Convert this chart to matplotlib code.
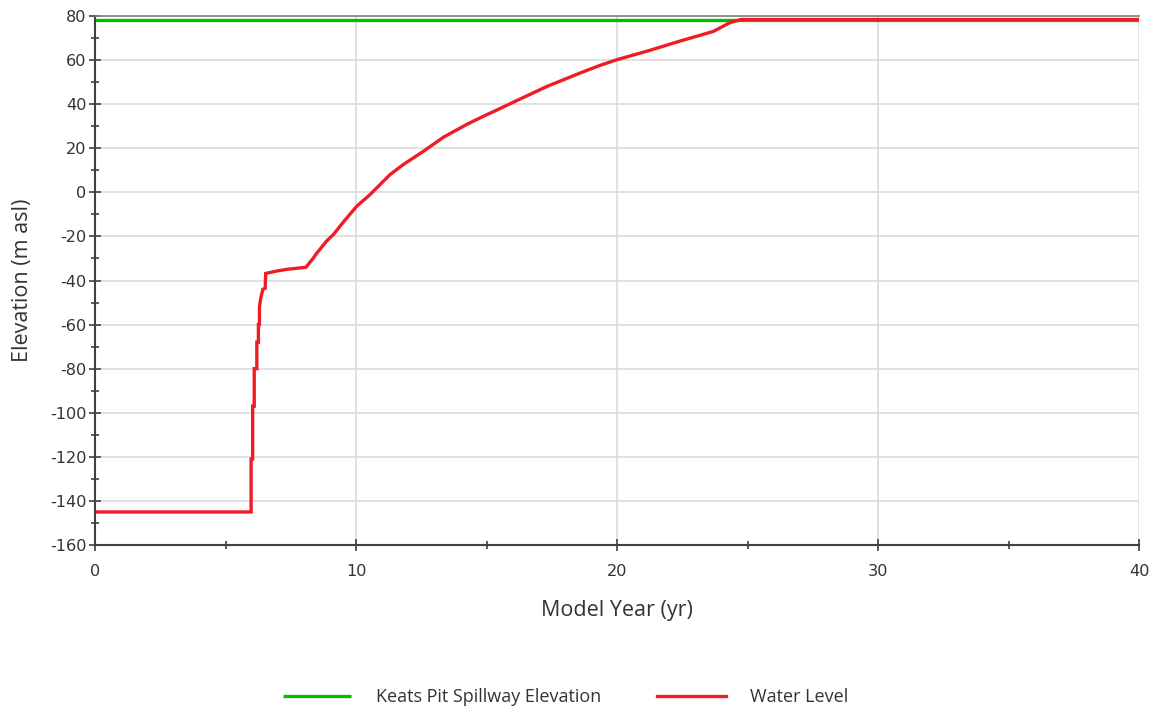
import matplotlib
matplotlib.use("Agg")
import matplotlib.pyplot as plt
from matplotlib.ticker import MultipleLocator

plt.rcParams["font.family"] = "DejaVu Sans"
plt.rcParams["axes.unicode_minus"] = False

# Pit lake filling: water level vs model year
spillway_elev = 78.4
years = [0.0, 5.98, 5.98, 6.04, 6.04, 6.10, 6.10, 6.20, 6.20, 6.26, 6.26, 6.30,
         6.30, 6.35, 6.43, 6.52, 6.54, 6.96, 7.37, 8.08, 8.36, 8.49, 8.88, 9.13,
         9.55, 10.02, 10.54, 11.30, 11.81, 12.58, 13.35, 14.24, 14.88, 15.39,
         16.03, 17.31, 18.58, 19.35, 20.03, 21.14, 22.41, 23.69, 24.33, 24.75, 40.0]
water_level = [-145.0, -145.0, -121.0, -121.0, -97.0, -97.0, -80.0, -80.0, -68.0,
               -68.0, -60.0, -60.0, -52.0, -48.0, -44.0, -43.5, -36.8, -35.7, -34.9,
               -34.0, -29.9, -27.7, -22.0, -19.2, -13.0, -6.4, -1.0, 8.0, 12.6,
               18.6, 25.0, 30.8, 34.5, 37.3, 40.9, 48.0, 54.1, 57.6, 60.3, 64.0,
               68.6, 73.0, 77.0, 78.4, 78.4]
x_limits = (0, 40)
y_limits = (-160, 80)

fig = plt.figure(figsize=(11.53, 7.07), dpi=100)
ax = fig.add_axes([0.0824, 0.2291, 0.9055, 0.7483])

ax.plot(x_limits, [spillway_elev, spillway_elev], color="#00C000", lw=2.4,
        label="Keats Pit Spillway Elevation", solid_capstyle="butt")
ax.plot(years, water_level, color="#EE1C25", lw=2.4, label="Water Level",
        solid_joinstyle="miter")

ax.set_xlim(*x_limits)
ax.set_ylim(*y_limits)
ax.xaxis.set_major_locator(MultipleLocator(10))
ax.xaxis.set_minor_locator(MultipleLocator(5))
ax.yaxis.set_major_locator(MultipleLocator(20))
ax.yaxis.set_minor_locator(MultipleLocator(10))

ax.grid(True, which="major", color="#DCDCDC", lw=1.2)
ax.set_axisbelow(True)
for side in ("left", "bottom"):
    ax.spines[side].set_color("#404040")
    ax.spines[side].set_linewidth(1.5)
ax.spines["top"].set_color("#808080")
ax.spines["top"].set_linewidth(1.2)
ax.spines["right"].set_visible(False)

ax.tick_params(which="both", direction="inout", color="#404040", width=1.2)
ax.tick_params(which="major", length=8, labelsize=11.6, labelcolor="#333333", pad=2)
ax.tick_params(which="minor", length=6)
ax.tick_params(axis="x", pad=10)

ax.set_xlabel("Model Year (yr)", fontsize=15.5, color="#333333",
              family="Open Sans", labelpad=15)
ax.set_ylabel("Elevation (m asl)", fontsize=15.5, color="#333333",
              family="Open Sans")
ax.yaxis.set_label_coords(-0.059, 0.5)

fig.legend(loc="center", bbox_to_anchor=(0.4905, 1 - 697 / 707), ncol=2,
           frameon=False, handlelength=3.8, handletextpad=1.35,
           columnspacing=3.1, prop={"family": "Open Sans", "size": 13},
           labelcolor="#333333")

fig.savefig("out.png", dpi=100)
